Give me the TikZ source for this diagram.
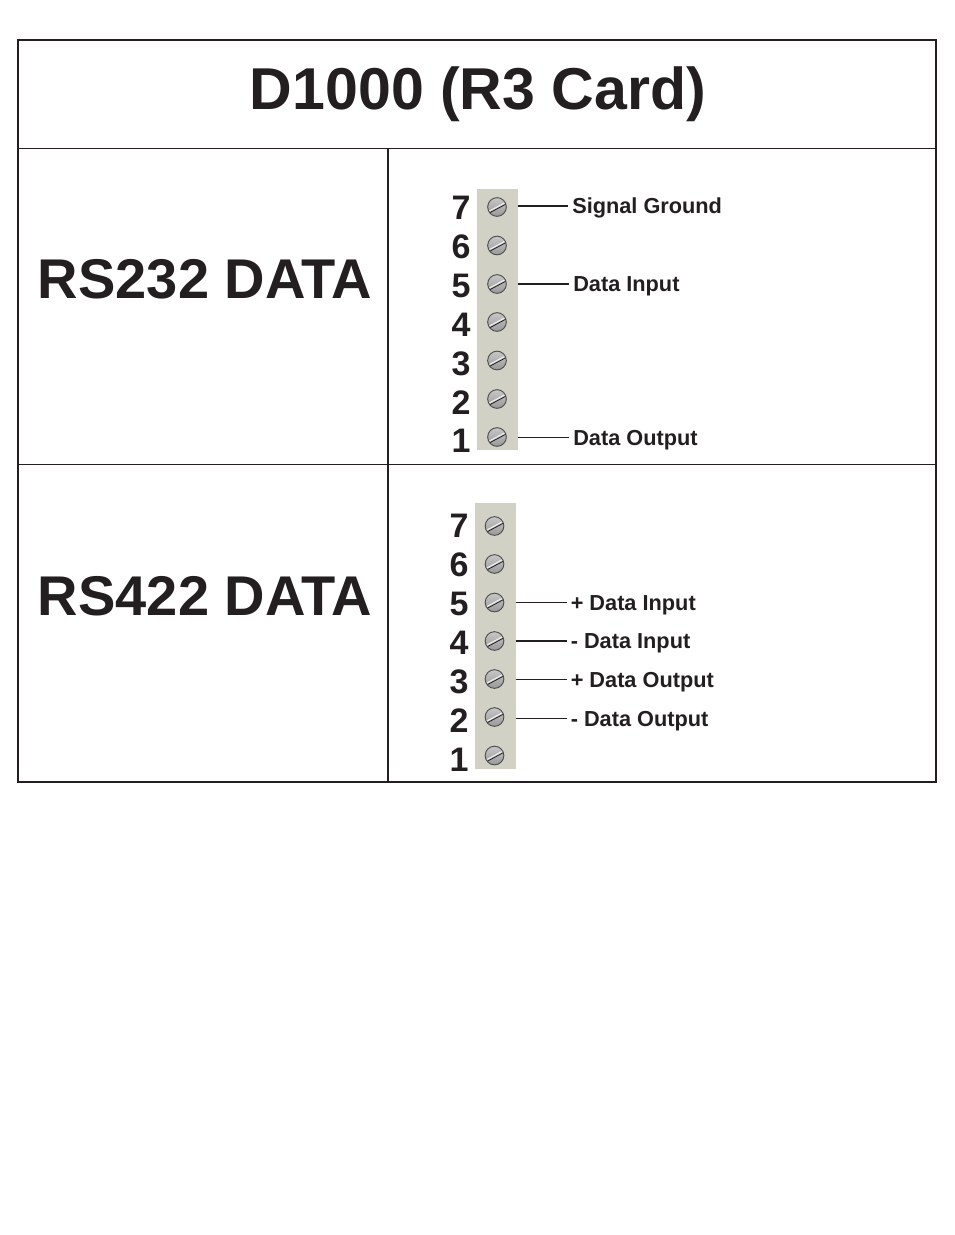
\documentclass[tikz,border=0pt]{standalone}
\usepackage{fontspec}
\setmainfont{Liberation Sans}
\definecolor{ink}{HTML}{231F20}
\definecolor{stripc}{HTML}{D1D1C5}
\tikzset{%
    lin/.style={line width = 0.75pt, draw=ink},
    lina/.style={line width = 1.5pt, draw=ink},
    lind/.style={line width = 1.1pt, draw=ink},
    strip/.style={rectangle, fill=stripc, inner sep=0pt, minimum width=30.75pt},
    screw/.style={circle, draw=ink!80, line width=0.7pt, top color=black!22, bottom color=black!40, inner sep=0pt, minimum size=14pt,
        path picture={\draw[ink, line width=0.6pt] ([shift={(-7.5pt,-5.4pt)}]path picture bounding box.center) -- ([shift={(7.5pt,2.6pt)}]path picture bounding box.center);
        \draw[black!5, line width=0.8pt] ([shift={(-7.5pt,-4pt)}]path picture bounding box.center) -- ([shift={(7.5pt,4pt)}]path picture bounding box.center);}},
    num/.style={text=ink, font=\fontsize{25.5}{26}\bfseries\selectfont, inner sep=0pt, text height=18.5pt, text depth=0pt},
    lab/.style={text=ink, font=\fontsize{16.3}{18}\bfseries\selectfont, inner ysep=0pt, inner xsep=3pt, text height=13pt, text depth=1.5pt, anchor=west},
    big/.style={text=ink, font=\fontsize{42}{44}\bfseries\selectfont, inner sep=0pt},
}
\begin{document}
\begin{tikzpicture}[x=0.75pt,y=-0.75pt]
    \useasboundingbox (0,0) rectangle (954,1235);
    % table
    \draw [lind](18,40) rectangle (936,782);
    \draw [lin](18,148)--(936,148) (18,464.5)--(936,464.5);
    \draw [lina](388,149)--(388,782);
    \node[text=ink, font=\fontsize{44.3}{48}\bfseries\selectfont, inner sep=0pt] (title) at (478,94) {D1000 (R3 Card)};
    \node[big] (rstwo) at (205,279) {RS232 DATA};
    \node[big] (rsfour) at (205,596) {RS422 DATA};
    % upper terminal block
    \node[strip, minimum height=195.75pt] (stripa) at (497.5,319.5) {};
    \foreach \n/\y/\z in {7/207/207,6/245.5/246,5/284/285,4/322/324,3/360.5/363,2/399/402,1/437/440}{
        \node[screw] (sa\n) at (497,\y) {};
        \node[num] (na\n) at (461,\z) {\n};
    }
    \coordinate (ea7) at (518,206);
    \coordinate (ea5) at (518,284);
    \coordinate (ea1) at (518,437.5);
    \node[lab] (sig) at (568,206) {Signal Ground};
    \node[lab] (din) at (569,284) {Data Input};
    \node[lab] (dout) at (569,437.5) {Data Output};
    \draw [lind](ea7)--(sig) (ea5)--(din) (ea1)--(dout);
    % lower terminal block
    \node[strip, minimum height=199.5pt] (stripb) at (495.5,636) {};
    \foreach \n/\y/\z in {7/526/525,6/564/564,5/602.5/603,4/641/642,3/679/681,2/717/720,1/755.5/759}{
        \node[screw] (sb\n) at (494.5,\y) {};
        \node[num] (nb\n) at (459,\z) {\n};
    }
    \coordinate (eb5) at (516,602.5);
    \coordinate (eb4) at (516,641);
    \coordinate (eb3) at (516,679.5);
    \coordinate (eb2) at (516,718.5);
    \node[lab] (pin) at (566.5,602.5) {+ Data Input};
    \node[lab] (min) at (566.5,641) {- Data Input};
    \node[lab] (pout) at (566.5,679.5) {+ Data Output};
    \node[lab] (mout) at (566.5,718.5) {- Data Output};
    \draw [lind](eb5)--(pin) (eb4)--(min) (eb3)--(pout) (eb2)--(mout);
\end{tikzpicture}
\end{document}
